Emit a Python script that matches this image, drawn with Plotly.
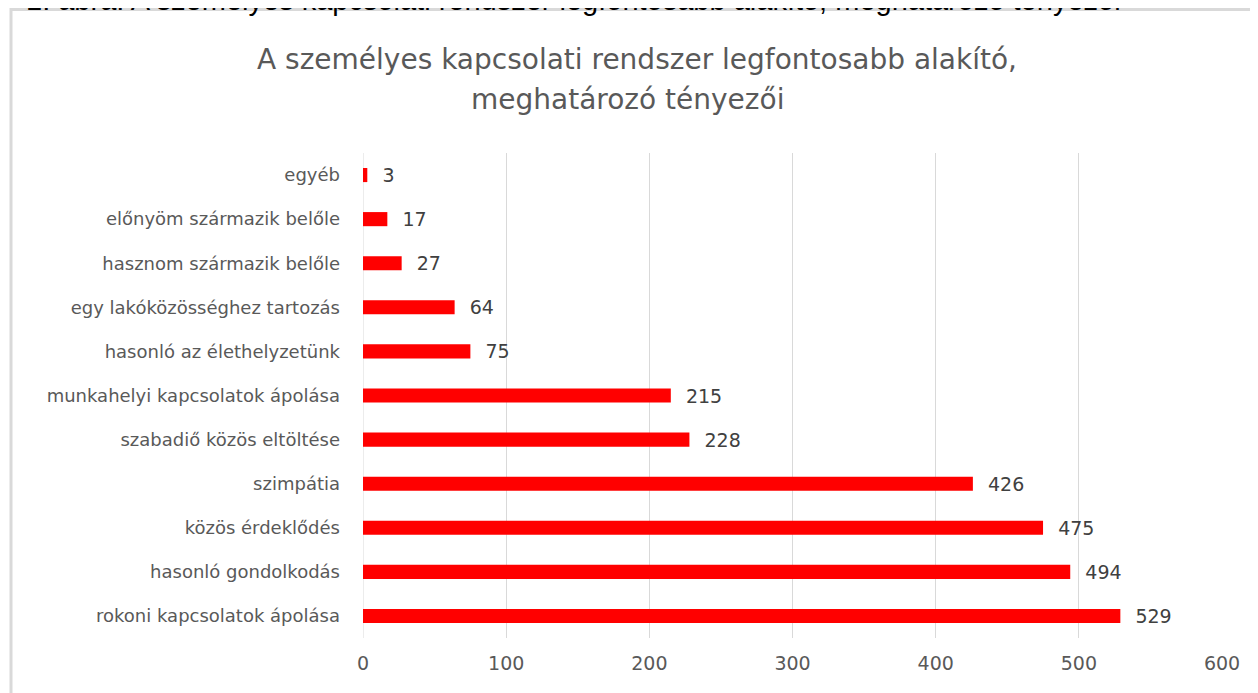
import plotly.graph_objects as go

categories = [
    "rokoni kapcsolatok ápolása",
    "hasonló gondolkodás",
    "közös érdeklődés",
    "szimpátia",
    "szabadiő közös eltöltése",
    "munkahelyi kapcsolatok ápolása",
    "hasonló az élethelyzetünk",
    "egy lakóközösséghez tartozás",
    "hasznom származik belőle",
    "előnyöm származik belőle",
    "egyéb",
]
values = [529, 494, 475, 426, 228, 215, 75, 64, 27, 17, 3]
x_ticks = [0, 100, 200, 300, 400, 500, 600]

title_line1 = "A személyes kapcsolati rendszer legfontosabb alakító,"
title_line2 = "meghatározó tényezői"
caption_text = "1. ábra: A személyes kapcsolati rendszer legfontosabb alakító, meghatározó tényezői"

FONT = "DejaVu Sans, sans-serif"
GRAY = "#595959"

# page body has an 8px margin; figure coordinates = page coordinates - 8
W, H = 1250, 685
L, R, T, B = 355, 36, 145, 55
pw, ph = W - L - R, H - T - B


def px_x(p):
    return (p - 8 - L) / pw


def px_y(p):
    return (H - B - (p - 8)) / ph


fig = go.Figure(
    go.Bar(
        y=categories,
        x=values,
        orientation="h",
        marker=dict(color="#ff0000", line=dict(width=0)),
        width=0.32,
        text=["  " + str(v) for v in values],
        textposition="outside",
        constraintext="none",
        textfont=dict(family=FONT, size=19, color="#404040"),
        cliponaxis=False,
    )
)

fig.update_layout(
    width=W,
    height=H,
    margin=dict(l=L, r=R, t=T, b=B, autoexpand=False),
    paper_bgcolor="white",
    plot_bgcolor="white",
    showlegend=False,
    font=dict(family=FONT, color=GRAY),
    xaxis=dict(
        range=[0, 600],
        tickvals=x_ticks,
        showgrid=True,
        gridcolor="#d9d9d9",
        gridwidth=1,
        zeroline=False,
        showline=False,
        ticks="",
        ticklabelstandoff=12,
        tickfont=dict(family=FONT, size=19, color=GRAY),
        fixedrange=True,
    ),
    yaxis=dict(
        categoryorder="array",
        categoryarray=categories,
        showgrid=False,
        zeroline=False,
        showline=False,
        ticks="",
        ticklabelstandoff=22,
        tickfont=dict(family=FONT, size=18, color=GRAY),
        fixedrange=True,
    ),
    shapes=[
        dict(
            type="rect", xref="paper", yref="paper",
            x0=px_x(11), x1=px_x(1290), y0=px_y(720), y1=px_y(9.5),
            line=dict(color="#d9d9d9", width=3), fillcolor="rgba(0,0,0,0)",
            layer="below",
        ),
        dict(
            type="line", xref="x", yref="paper",
            x0=0, x1=0, y0=0, y1=1,
            line=dict(color="#d9d9d9", width=1), layer="below",
        ),
    ],
    annotations=[
        dict(
            text=title_line1, xref="paper", yref="paper",
            x=px_x(637), y=px_y(59), xanchor="center", yanchor="middle",
            showarrow=False,
            font=dict(family=FONT, size=28, color=GRAY),
        ),
        dict(
            text=title_line2, xref="paper", yref="paper",
            x=px_x(627), y=px_y(100), xanchor="center", yanchor="middle",
            showarrow=False,
            font=dict(family=FONT, size=28, color=GRAY),
        ),
        dict(
            text=caption_text, xref="paper", yref="paper",
            x=px_x(24), y=px_y(0), xanchor="left", yanchor="middle",
            showarrow=False,
            font=dict(family="Liberation Sans, Arial, sans-serif", size=29, color="#000000"),
        ),
    ],
)

fig.write_html("out.html")
